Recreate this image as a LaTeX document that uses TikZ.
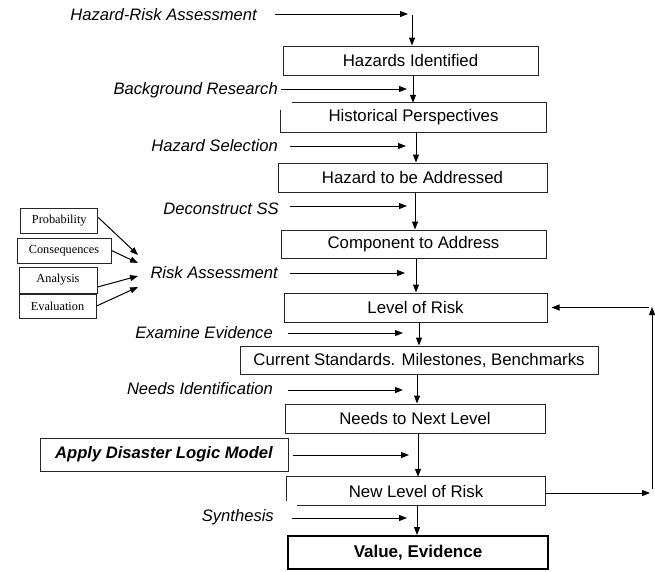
\documentclass[tikz,border=0pt]{standalone}
\usepackage{fontspec}
\setmainfont{Liberation Sans}
\newfontfamily\smallserif{Liberation Serif}
\usetikzlibrary{arrows.meta}
\tikzset{
  box/.style={draw=black!85, line width=1pt, inner sep=0pt, font=\fontsize{16.8}{19}\selectfont},
  plainbox/.style={inner sep=0pt, font=\fontsize{16.8}{19}\selectfont},
  lbl/.style={anchor=east, inner sep=0pt, font=\fontsize{16.6}{19}\selectfont\itshape},
  sbox/.style={draw=black!85, line width=1pt, inner sep=0pt, font=\smallserif\fontsize{12.3}{14}\selectfont},
  arr/.style={-{Triangle[length=8pt,width=6pt]}, line width=1pt},
  ln/.style={draw=black!85, line width=1pt},
}
\begin{document}
\begin{tikzpicture}[x=1pt,y=-1pt]
\useasboundingbox (0,0) rectangle (655,571);

% main boxes
\node[box, minimum width=255pt, minimum height=29pt] (HI) at (410.5,60.5) {Hazards Identified};
\node[plainbox, minimum width=265pt, minimum height=29pt] (HP) at (413.5,117.5) {Historical Perspectives};
\draw[ln] ([xshift=11pt]HP.north west) -- (HP.north east) -- (HP.south east) -- (HP.south west) -- ([yshift=-7pt]HP.north west);
\node[box, minimum width=269pt, minimum height=29pt] (HA) at (412.5,177.5) {Hazard to be Addressed};
\node[box, minimum width=265pt, minimum height=28pt] (CA) at (413.5,244) {Component to Address};
\node[box, minimum width=263pt, minimum height=29pt] (LR) at (415.5,307.5) {Level of Risk};
\node[box, minimum width=358pt, minimum height=28pt] (CS) at (419,360) {Current Standards. Milestones, Benchmarks};
\node[box, minimum width=260pt, minimum height=29pt] (NN) at (415,418.5) {Needs to Next Level};
\node[box, minimum width=248pt, minimum height=33pt, font=\fontsize{16.6}{19}\selectfont\bfseries\itshape] (AD) at (164,454.5) {Apply Disaster Logic Model};
\node[plainbox, minimum width=258pt, minimum height=28pt] (NL) at (416,491) {New Level of Risk};
\draw[ln] ([yshift=4pt]NL.south west) -- (NL.north west) -- (NL.north east) -- (NL.south east) -- ([xshift=10pt]NL.south west);
\node[box, draw=black, line width=2pt, minimum width=260pt, minimum height=33pt, font=\fontsize{17}{20}\selectfont\bfseries] (VE) at (418,552.5) {Value, Evidence};

% left small boxes
\node[sbox, minimum width=77pt, minimum height=25pt] (P) at (59.3,220.5) {Probability};
\node[sbox, minimum width=94pt, minimum height=25pt] (C) at (64,250.5) {Consequences};
\node[sbox, minimum width=78pt, minimum height=26pt] (A) at (58,280) {Analysis};
\node[sbox, minimum width=77pt, minimum height=24pt] (E) at (57.5,306) {Evaluation};

% italic labels
\node[lbl] (L1) at (257,15) {Hazard-Risk Assessment};
\node[lbl] (L2) at (278,90) {Background Research};
\node[lbl] (L3) at (278,146) {Hazard Selection};
\node[lbl] (L4) at (279,209) {Deconstruct SS};
\node[lbl] (L5) at (278,273) {Risk Assessment};
\node[lbl] (L6) at (273,333) {Examine Evidence};
\node[lbl] (L7) at (273,389) {Needs Identification};
\node[lbl] (L8) at (274,517) {Synthesis};

% horizontal arrow coordinates
\coordinate (s1) at (275,14);  \coordinate (t1) at (408,14);
\coordinate (s2) at (281,89);  \coordinate (t2) at (407,89);
\coordinate (s3) at (290,146); \coordinate (t3) at (406,146);
\coordinate (s4) at (290,206); \coordinate (t4) at (407,206);
\coordinate (s5) at (290,273); \coordinate (t5) at (405,273);
\coordinate (s6) at (288,333); \coordinate (t6) at (403,333);
\coordinate (s7) at (288,390); \coordinate (t7) at (403,390);
\coordinate (t8) at (409,455);
\coordinate (s9) at (292,518); \coordinate (t9) at (407,518);

\draw[arr] (s1) -- (t1);
\draw[arr] (s2) -- (t2);
\draw[arr] (s3) -- (t3);
\draw[arr] (s4) -- (t4);
\draw[arr] (s5) -- (t5);
\draw[arr] (s6) -- (t6);
\draw[arr] (s7) -- (t7);
\draw[arr] ([xshift=4pt]AD.east |- t8) -- (t8);
\draw[arr] (s9) -- (t9);

% vertical flow
\coordinate (v0) at (412,15);
\coordinate (v1) at (413,0);
\coordinate (v2) at (416,0);
\coordinate (v3) at (415,0);
\coordinate (v4) at (416,0);
\coordinate (v5) at (419,0);
\coordinate (v6) at (417,0);
\coordinate (v7) at (418,0);
\coordinate (v8) at (417,0);
\draw[arr] (v0) -- (v0 |- HI.north);
\draw[arr] (v1 |- HI.south) -- (v1 |- HP.north);
\draw[arr] (v2 |- HP.south) -- (v2 |- HA.north);
\draw[arr] (v3 |- HA.south) -- (v3 |- CA.north);
\draw[arr] (v4 |- CA.south) -- (v4 |- LR.north);
\draw[arr] (v5 |- LR.south) -- (v5 |- CS.north);
\draw[arr] (v6 |- CS.south) -- (v6 |- NN.north);
\draw[arr] (v7 |- NN.south) -- (v7 |- NL.north);
\draw[arr] (v8 |- NL.south) -- (v8 |- VE.north);

% converging arrows to Risk Assessment
\coordinate (p1) at (138,255);
\coordinate (p2) at (138,263);
\coordinate (p3) at (138,276);
\coordinate (p4) at (138,287);
\draw[arr] ([yshift=3pt]P.east) -- (p1);
\draw[arr] (C.east) -- (p2);
\draw[arr] ([yshift=-7pt]A.east) -- (p3);
\draw[arr] (E.east) -- (p4);

% feedback loop
\coordinate (r1) at (650,493);
\coordinate (r2) at (652,489);
\coordinate (r3) at (652,307);
\coordinate (r4) at (649,307.5);
\draw[arr] (NL.east |- r1) -- (r1);
\draw[arr] (r2) -- (r3);
\draw[arr] (r4) -- ([xshift=4pt]LR.east);
\end{tikzpicture}
\end{document}
